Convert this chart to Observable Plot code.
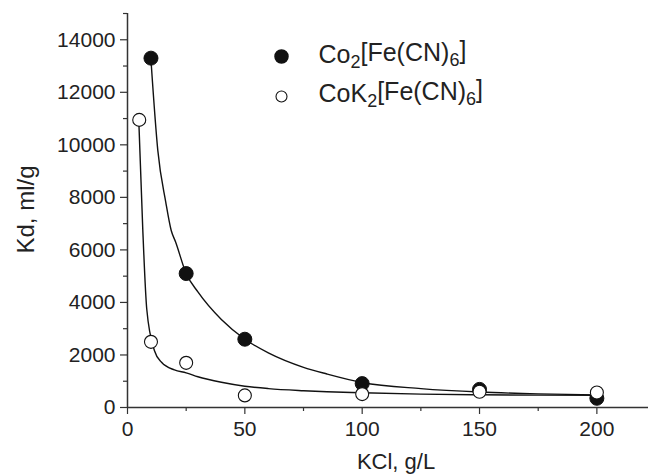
<!DOCTYPE html>
<html>
<head>
<meta charset="utf-8">
<script src="https://cdn.jsdelivr.net/npm/d3@7"></script>
<script src="https://cdn.jsdelivr.net/npm/@observablehq/plot@0.6"></script>
<style>
  html, body { margin: 0; padding: 0; background: #fff; }
  #chart svg { display: block; }
</style>
</head>
<body>
<div id="chart"></div>
<script>
// Measured points: KCl concentration (g/L) vs Kd (ml/g)
const kclCo2 = [10, 25, 50, 100, 150, 200];
const kdCo2 = [13300, 5100, 2600, 910, 690, 350];

const kclCoK2 = [5, 10, 25, 50, 100, 150, 200];
const kdCoK2 = [10950, 2500, 1700, 460, 510, 600, 570];

// Fitted curves
const fitCo2X = [10.1, 12.9, 16.3, 18.6, 20.5, 25, 30, 40, 50, 60, 75, 85, 100, 125, 150, 175, 200];
const fitCo2Y = [13100, 9800, 7820, 6750, 6300, 5100, 4400, 3350, 2600, 2080, 1530, 1275, 950, 720, 590, 520, 480];

const fitCoK2X = [4.8, 6.5, 8.2, 11.5, 14.5, 20, 25, 30, 40, 50, 60, 75, 85, 100, 125, 150, 175, 200];
const fitCoK2Y = [10950, 6800, 3750, 2160, 1720, 1430, 1320, 1170, 960, 810, 720, 640, 600, 560, 510, 485, 470, 460];

// Legend labels
const seriesLabels = ["Co₂[Fe(CN)₆]", "CoK₂[Fe(CN)₆]"];

// Axis ticks and titles
const xMajorTicks = [0, 50, 100, 150, 200];
const xMinorTicks = [25, 75, 125, 175];
const yMajorTicks = [0, 2000, 4000, 6000, 8000, 10000, 12000, 14000];
const yMinorTicks = [1000, 3000, 5000, 7000, 9000, 11000, 13000, 15000];
const xTitle = "KCl, g/L";
const yTitle = "Kd, ml/g";

const co2Points = kclCo2.map((x, i) => ({x, y: kdCo2[i]}));
const coK2Points = kclCoK2.map((x, i) => ({x, y: kdCoK2[i]}));
const co2Fit = fitCo2X.map((x, i) => ({x, y: fitCo2Y[i]}));
const coK2Fit = fitCoK2X.map((x, i) => ({x, y: fitCoK2Y[i]}));

const font = "'Liberation Sans', Arial, Helvetica, sans-serif";
const ink = "#222";

const chart = Plot.plot({
  width: 650,
  height: 474,
  marginLeft: 127,
  marginRight: 2,
  marginTop: 13,
  marginBottom: 67,
  style: {fontFamily: font, background: "#fff", color: ink},
  x: {domain: [0, 222], axis: null},
  y: {domain: [0, 15000], axis: null},
  marks: [
    // axes
    Plot.axisY(yMajorTicks, {tickSize: 7, tickPadding: 5, fontSize: 21, fill: ink, stroke: "#333", strokeWidth: 1.2, label: null, tickFormat: d => String(d)}),
    Plot.axisY(yMinorTicks, {tickSize: 4, stroke: "#333", strokeWidth: 1.2, label: null, tickFormat: () => ""}),
    Plot.axisX(xMajorTicks, {tickSize: 7, tickPadding: 7, fontSize: 21, fill: ink, stroke: "#333", strokeWidth: 1.2, label: null, tickFormat: d => String(d)}),
    Plot.axisX(xMinorTicks, {tickSize: 4, stroke: "#333", strokeWidth: 1.2, label: null, tickFormat: () => ""}),
    Plot.ruleX([0], {stroke: "#333", strokeWidth: 1.5}),
    Plot.ruleY([0], {stroke: "#333", strokeWidth: 1.5}),
    // axis titles
    Plot.text([xTitle], {frameAnchor: "bottom", text: d => d, textAnchor: "middle", lineAnchor: "top", dx: 8, dy: 46, fontSize: 22, fill: ink}),
    Plot.text([yTitle], {frameAnchor: "left", text: d => d, rotate: -90, textAnchor: "middle", lineAnchor: "middle", dx: -101, dy: -1, fontSize: 24, fill: ink}),
    // fitted curves
    Plot.line(co2Fit, {x: "x", y: "y", stroke: "#111", strokeWidth: 1.4, curve: "monotone-x"}),
    Plot.line(coK2Fit, {x: "x", y: "y", stroke: "#111", strokeWidth: 1.4, curve: "monotone-x"}),
    // data points
    Plot.dot(co2Points, {x: "x", y: "y", r: 7, fill: "#111", stroke: "#111", strokeWidth: 1}),
    Plot.dot(coK2Points, {x: "x", y: "y", r: 6.5, fill: "#fff", stroke: "#111", strokeWidth: 1.1}),
    // legend
    Plot.dot([seriesLabels[0]], {frameAnchor: "top-left", dx: 154, dy: 43, r: 6.5, fill: "#111", stroke: "#111"}),
    Plot.dot([seriesLabels[1]], {frameAnchor: "top-left", dx: 154, dy: 83, r: 5.5, fill: "#fff", stroke: "#111", strokeWidth: 1.1}),
    Plot.text([seriesLabels[0]], {frameAnchor: "top-left", text: d => d, textAnchor: "start", lineAnchor: "middle", dx: 191, dy: 41, fontSize: 25, fill: ink}),
    Plot.text([seriesLabels[1]], {frameAnchor: "top-left", text: d => d, textAnchor: "start", lineAnchor: "middle", dx: 191, dy: 80, fontSize: 25, fill: ink})
  ]
});

// Render unicode subscript digits as shifted, smaller tspans
const subMap = {"₀":"0","₁":"1","₂":"2","₃":"3","₄":"4","₅":"5","₆":"6","₇":"7","₈":"8","₉":"9"};
d3.select(chart).selectAll("text").each(function() {
  const t = this.textContent;
  if (!/[₀-₉]/.test(t)) return;
  const el = d3.select(this);
  el.text(null);
  let buf = "", shifted = false;
  const flush = () => { if (buf) { el.append("tspan").text(buf); buf = ""; } };
  for (const ch of t) {
    if (subMap[ch]) {
      flush();
      el.append("tspan").attr("dy", "0.28em").attr("font-size", 18).text(subMap[ch]);
      shifted = true;
    } else {
      if (shifted) {
        el.append("tspan").attr("dy", "-0.28em").text(ch);
        shifted = false;
      } else buf += ch;
    }
  }
  flush();
});

document.getElementById("chart").appendChild(chart);
</script>
</body>
</html>
